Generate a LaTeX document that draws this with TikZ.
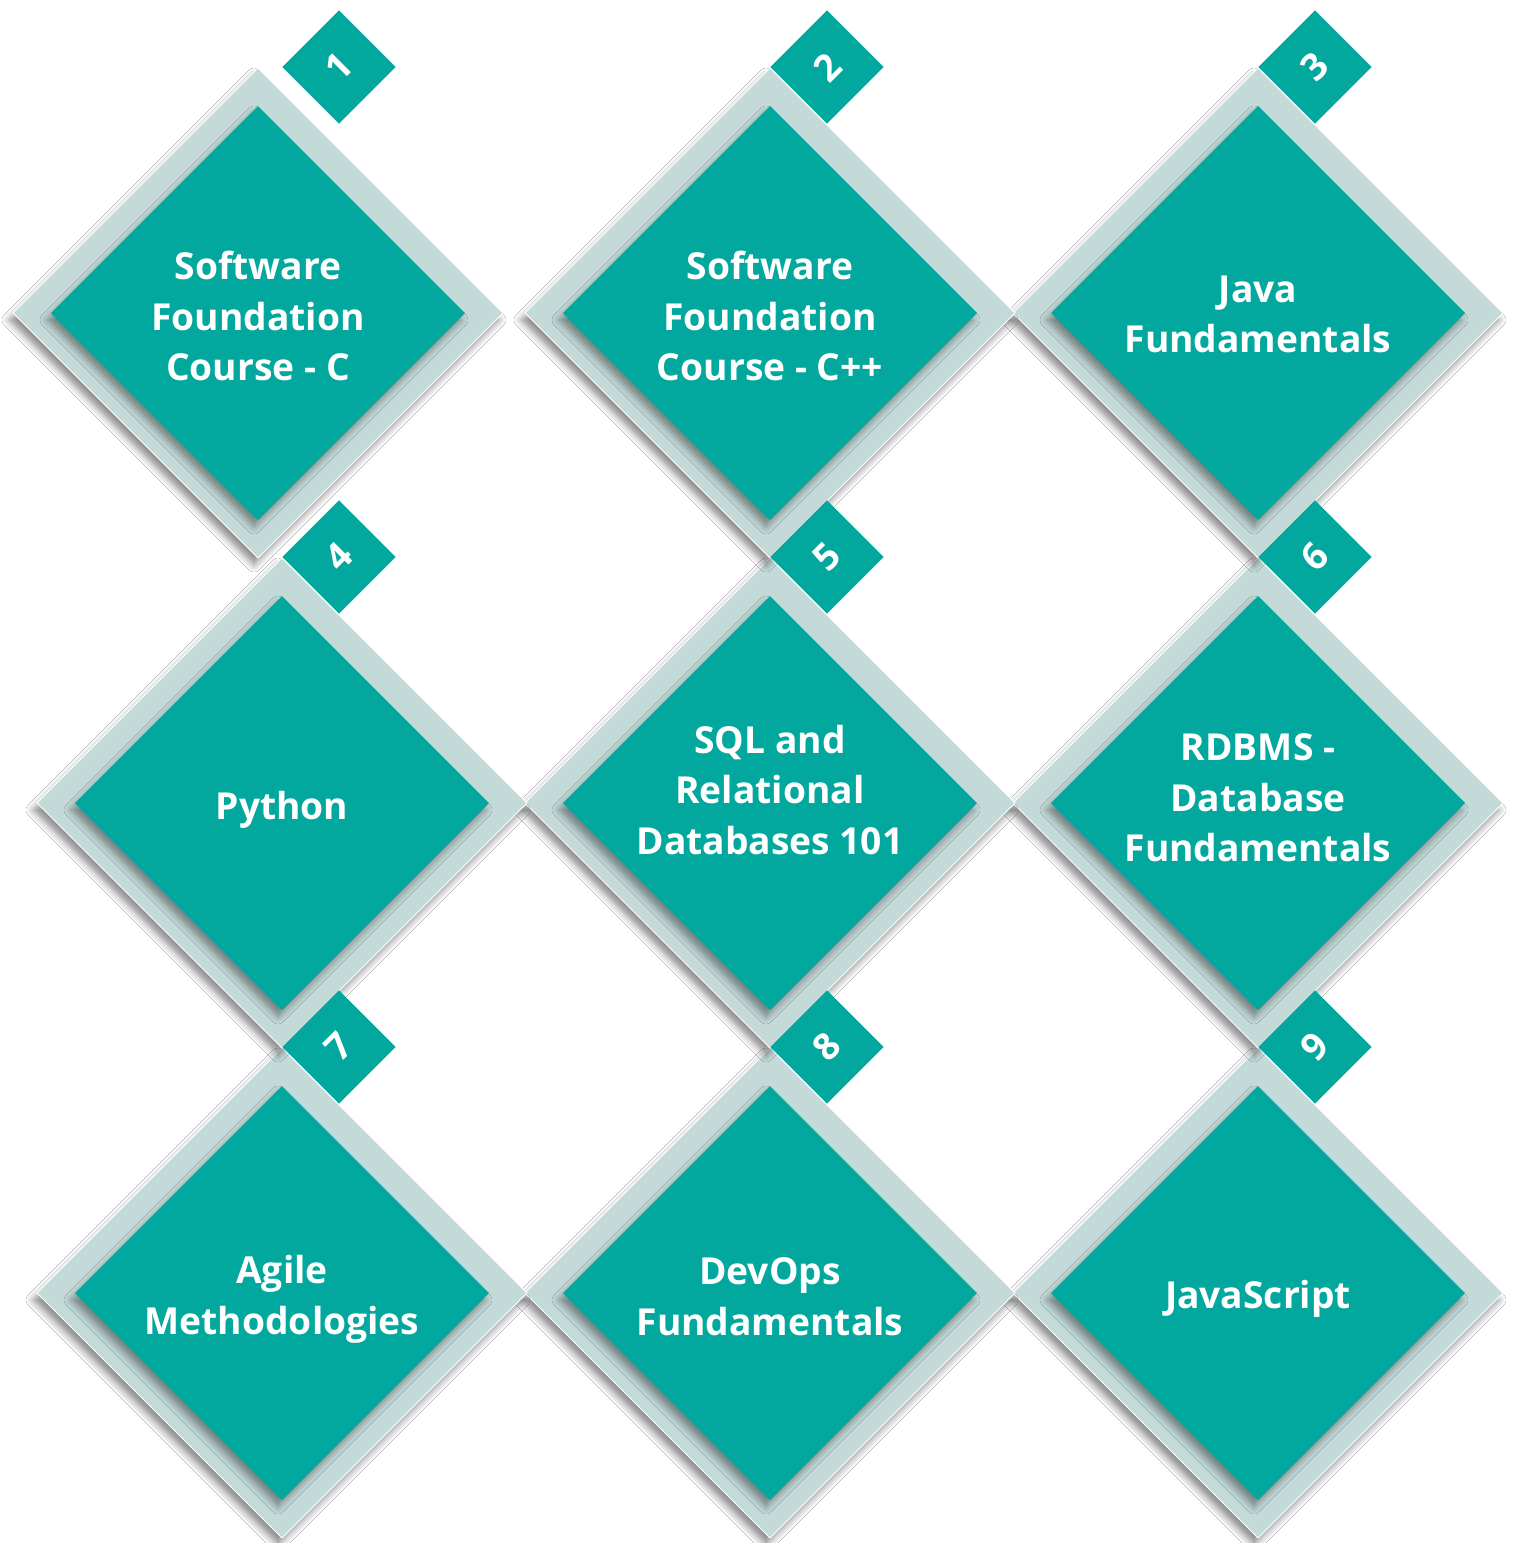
\documentclass[tikz,border=0pt]{standalone}
\usepackage{fontspec}
\setmainfont{Open Sans}
\usetikzlibrary{shapes.geometric,shadows.blur}
\definecolor{tealmain}{HTML}{02A89E}
\definecolor{palerim}{HTML}{C3DAD9}
\begin{document}
\begin{tikzpicture}[x=1pt,y=-1pt,
  outerd/.style={diamond, aspect=1, minimum size=490pt, inner sep=0pt, outer sep=0pt,
    fill=palerim, draw=white, line width=0.8pt,
    blur shadow={shadow xshift=-4pt, shadow yshift=-7pt, shadow blur radius=7pt, shadow opacity=45}},
  innerd/.style={diamond, aspect=1, minimum size=414pt, inner sep=0pt, outer sep=0pt,
    fill=tealmain,
    blur shadow={shadow xshift=-4pt, shadow yshift=-7pt, shadow blur radius=7pt, shadow opacity=40}},
  numsq/.style={rectangle, minimum size=80pt, inner sep=0pt, outer sep=0pt, fill=tealmain,
    rotate=45, text=white, font=\bfseries\fontsize{37.2}{40}\selectfont},
  lbl/.style={text=white, align=center, inner sep=0pt, font=\bfseries\fontsize{37.2}{50.5}\selectfont}
]
\useasboundingbox[fill=white] (0,0) rectangle (1514,1543);

% row 3
\node[outerd] (o9) at (1258,1293) {};
\node[innerd] (i9) at (1258,1293) {};
\node[lbl] (t9) at (1258,1299) {JavaScript};
\node[outerd] (o8) at (770,1293) {};
\node[innerd] (i8) at (770,1293) {};
\node[lbl] (t8) at (770,1296.5) {DevOps\\Fundamentals};
\node[outerd] (o7) at (282,1293) {};
\node[innerd] (i7) at (282,1293) {};
\node[lbl] (t7) at (282,1299.5) {Agile\\Methodologies};

% row 2
\node[outerd] (o6) at (1258,803) {};
\node[innerd] (i6) at (1258,803) {};
\node[lbl] (t6) at (1258,798) {RDBMS -\\Database\\Fundamentals};
\node[outerd] (o5) at (770,803) {};
\node[innerd] (i5) at (770,803) {};
\node[lbl] (t5) at (770,790) {SQL and\\Relational\\Databases 101};
\node[outerd] (o4) at (282,803) {};
\node[innerd] (i4) at (282,803) {};
\node[lbl] (t4) at (282,810) {Python};

% row 1
\node[outerd] (o3) at (1258,313) {};
\node[innerd] (i3) at (1258,313) {};
\node[lbl] (t3) at (1258,314.5) {Java\\Fundamentals};
\node[outerd] (o2) at (770,313) {};
\node[innerd] (i2) at (770,313) {};
\node[lbl] (t2) at (770,316) {Software\\Foundation\\Course - C++};
\node[outerd] (o1) at (258,313) {};
\node[innerd] (i1) at (258,313) {};
\node[lbl] (t1) at (258,316) {Software\\Foundation\\Course - C};

% number squares
\node[numsq] (n1) at (339,67) {1};
\node[numsq] (n2) at (827,67) {2};
\node[numsq] (n3) at (1315,67) {3};
\node[numsq] (n4) at (339,557) {4};
\node[numsq] (n5) at (827,557) {5};
\node[numsq] (n6) at (1315,557) {6};
\node[numsq] (n7) at (339,1047) {7};
\node[numsq] (n8) at (827,1047) {8};
\node[numsq] (n9) at (1315,1047) {9};
\end{tikzpicture}
\end{document}
